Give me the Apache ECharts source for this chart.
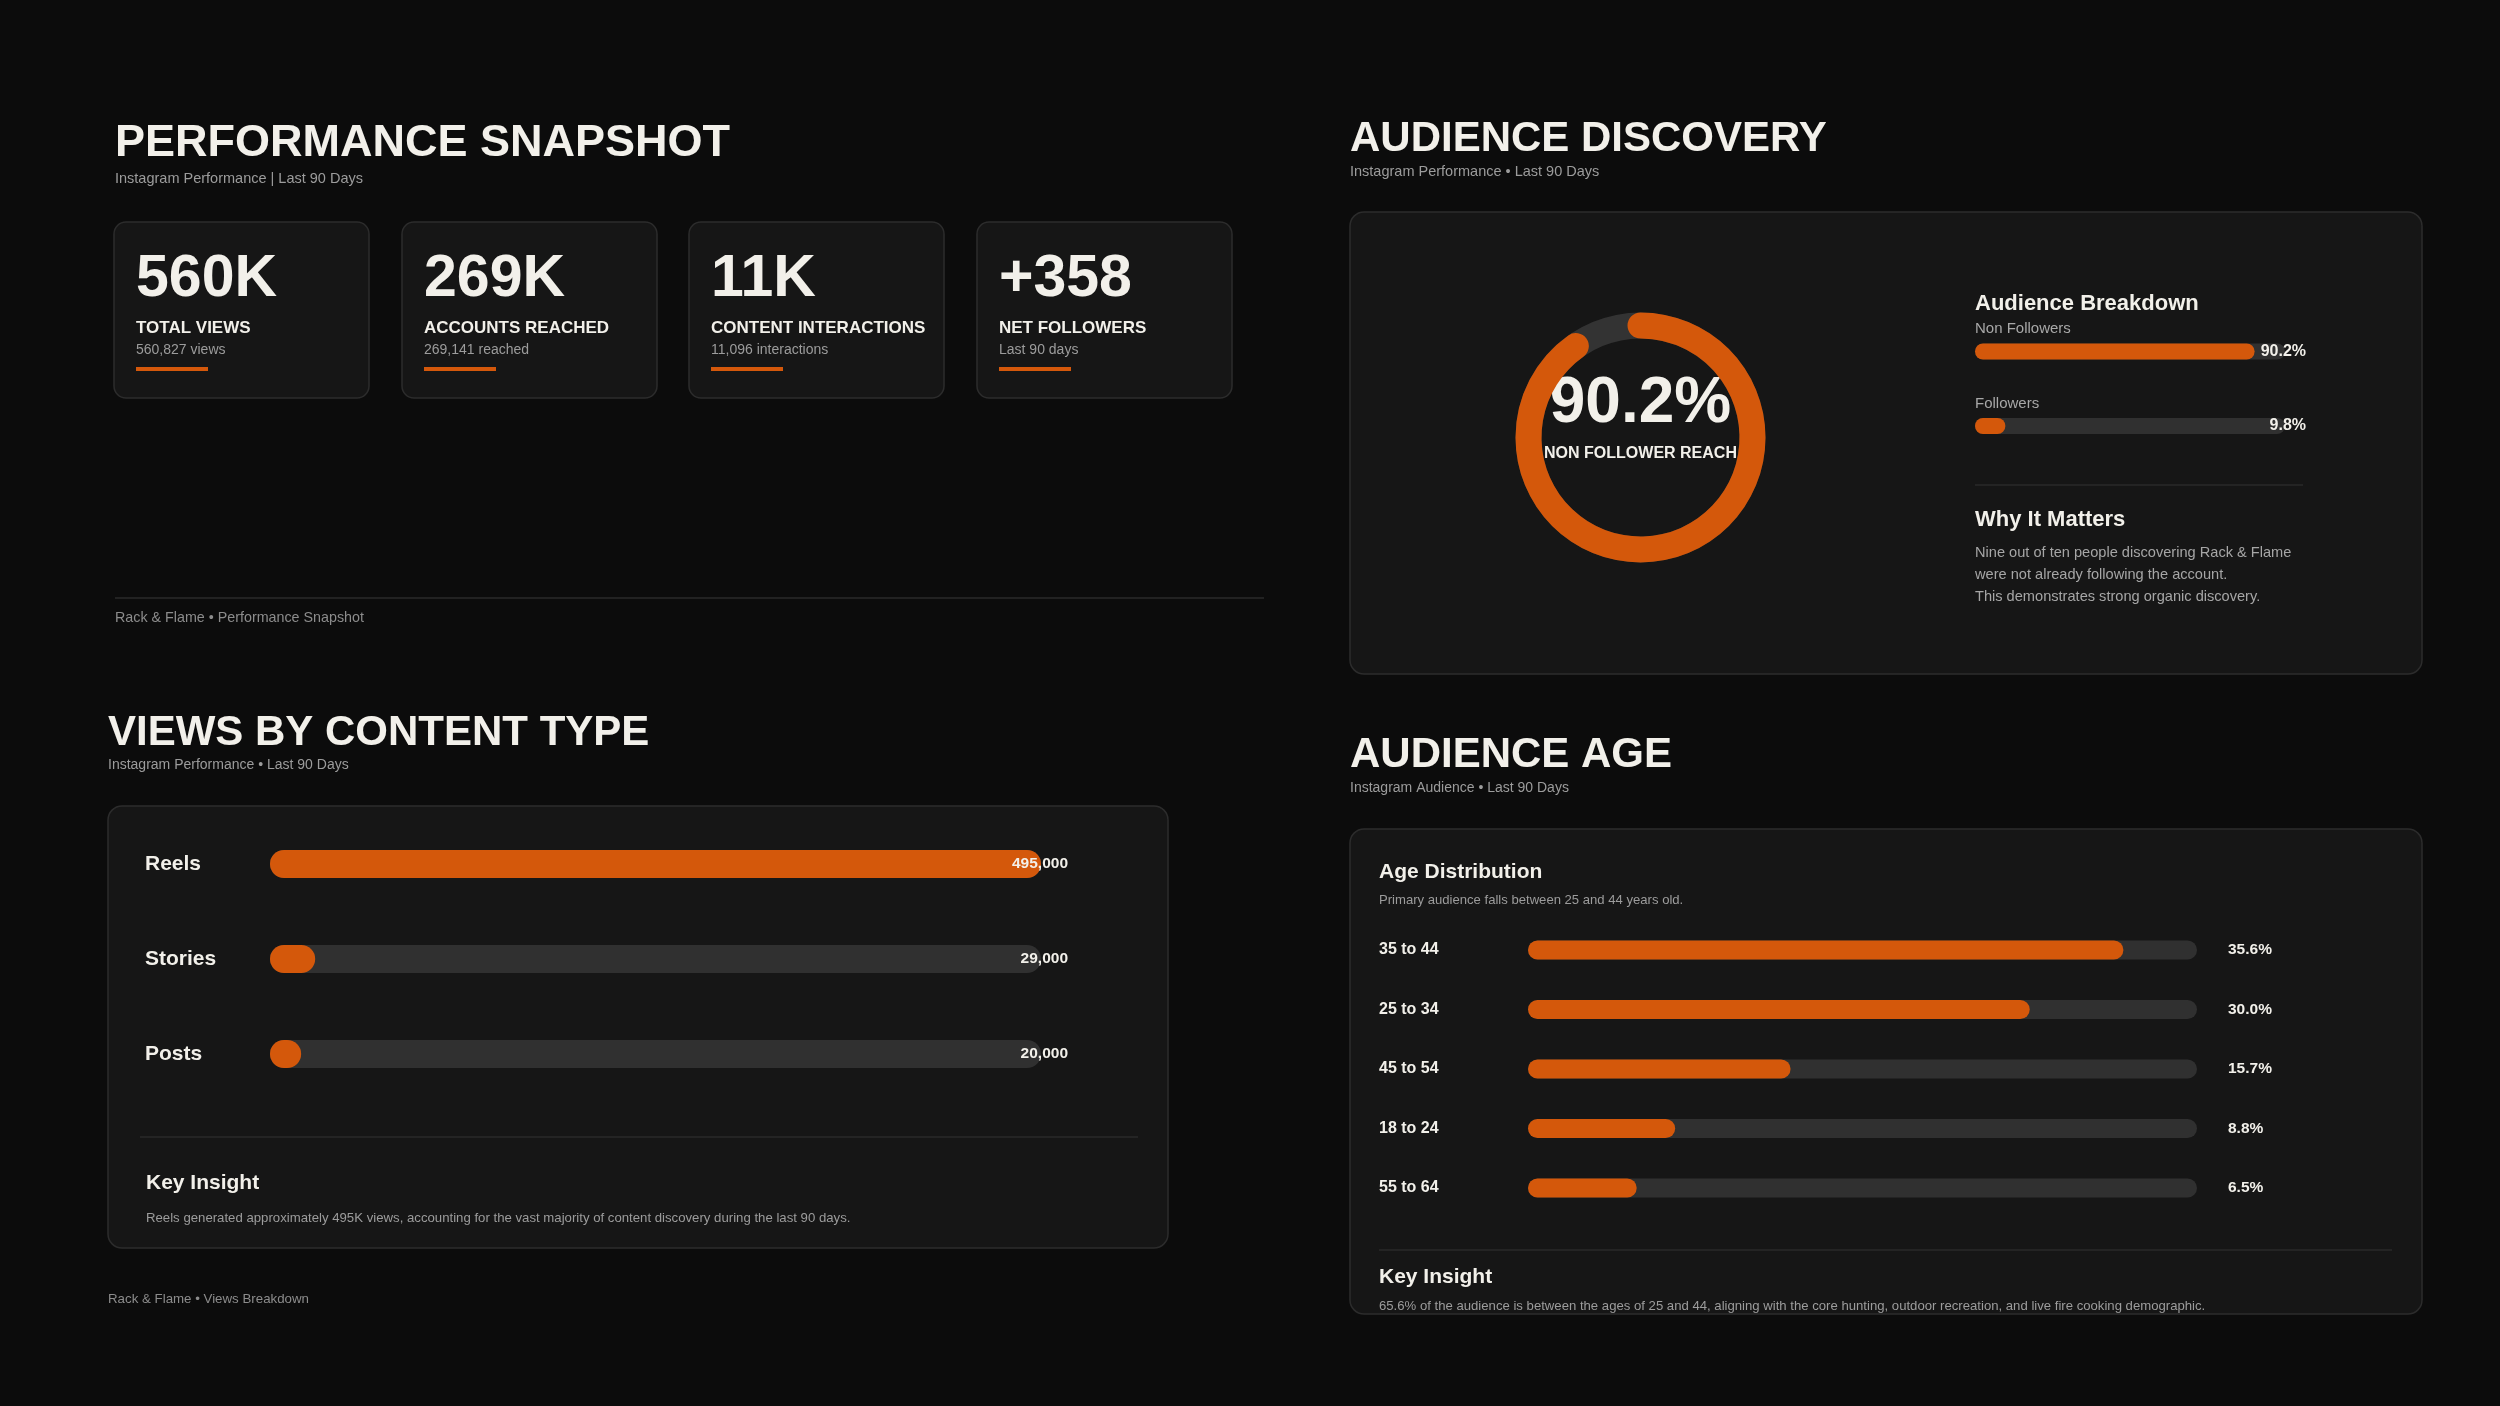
<!DOCTYPE html>
<html>
<head>
<meta charset="utf-8">
<script src="https://cdn.jsdelivr.net/npm/echarts@6/dist/echarts.min.js"></script>
<style>
html,body{margin:0;padding:0;background:#0c0c0c;}
#chart{width:2500px;height:1406px;}
</style>
</head>
<body>
<div id="chart"></div>
<script>
// ---- data ----
const kpiValues = ['560K', '269K', '11K', '+358'];
const kpiLabels = ['TOTAL VIEWS', 'ACCOUNTS REACHED', 'CONTENT INTERACTIONS', 'NET FOLLOWERS'];
const kpiSubs = ['560,827 views', '269,141 reached', '11,096 interactions', 'Last 90 days'];

const reachValue = 90.2;
const breakdownLabels = ['Non Followers', 'Followers'];
const breakdownValues = [90.2, 9.8];

const contentTypes = ['Reels', 'Stories', 'Posts'];
const contentViews = [495000, 29000, 20000];
const contentMax = 495000;

const ageGroups = ['35 to 44', '25 to 34', '45 to 54', '18 to 24', '55 to 64'];
const agePct = [35.6, 30.0, 15.7, 8.8, 6.5];
const ageMax = 40;

// ---- styles ----
const ORANGE = '#D4580B';
const TRACK = '#303030';
const WHITE = '#F2F0EA';
const GREY = '#9C9C9C';
const FONT = '"Liberation Sans", Arial, sans-serif';
const CARD_FILL = '#161616';
const CARD_STROKE = '#2C2C2C';

function txt(x, y, text, size, color, weight, extra) {
  return Object.assign({
    type: 'text', x: x, y: y, z: 10,
    style: { text: text, fontSize: size, fill: color, fontWeight: weight || 'normal',
      fontFamily: FONT, verticalAlign: 'middle', align: 'left' }
  }, extra || {});
}
function card(x, y, w, h, r) {
  return { type: 'rect', z: -5, shape: { x: x, y: y, width: w, height: h, r: r },
    style: { fill: CARD_FILL, stroke: CARD_STROKE, lineWidth: 1.5 } };
}
function hline(x1, x2, y, color) {
  return { type: 'line', z: 1, shape: { x1: x1, y1: y, x2: x2, y2: y },
    style: { stroke: color || '#2A2A2A', lineWidth: 1.5 } };
}

const graphics = [];
// Performance snapshot
graphics.push(txt(115, 144, 'PERFORMANCE SNAPSHOT', 45, WHITE, 'bold'));
graphics.push(txt(115, 179, 'Instagram Performance | Last 90 Days', 14.5, GREY));
const cardXs = [114, 402, 689, 977];
kpiValues.forEach(function (v, i) {
  const x = cardXs[i];
  graphics.push(card(x, 222, 255, 176, 12));
  graphics.push(txt(x + 22, 280, v, 59, WHITE, 'bold'));
  graphics.push(txt(x + 22, 328.5, kpiLabels[i], 17, WHITE, 'bold'));
  graphics.push(txt(x + 22, 350.5, kpiSubs[i], 14, GREY));
  graphics.push({ type: 'rect', z: 5, shape: { x: x + 22, y: 367, width: 72, height: 4 }, style: { fill: ORANGE } });
});
graphics.push(hline(115, 1264, 598));
graphics.push(txt(115, 618, 'Rack & Flame • Performance Snapshot', 14.3, '#8C8C8C'));

// Audience discovery
graphics.push(txt(1350, 139.5, 'AUDIENCE DISCOVERY', 42, WHITE, 'bold'));
graphics.push(txt(1350, 172, 'Instagram Performance • Last 90 Days', 14.5, GREY));
graphics.push(card(1350, 212, 1072, 462, 14));
graphics.push(txt(1975, 304, 'Audience Breakdown', 22, WHITE, 'bold'));
graphics.push(hline(1975, 2303, 485));
graphics.push(txt(1975, 520, 'Why It Matters', 22, WHITE, 'bold'));
graphics.push(txt(1975, 552.5, 'Nine out of ten people discovering Rack & Flame', 14.6, '#A6A6A6'));
graphics.push(txt(1975, 574.5, 'were not already following the account.', 14.6, '#A6A6A6'));
graphics.push(txt(1975, 596.5, 'This demonstrates strong organic discovery.', 14.6, '#A6A6A6'));

// Views by content type
graphics.push(txt(108, 733.5, 'VIEWS BY CONTENT TYPE', 42, WHITE, 'bold'));
graphics.push(txt(108, 765.5, 'Instagram Performance • Last 90 Days', 14, GREY));
graphics.push(card(108, 806, 1060, 442, 14));
graphics.push(hline(140, 1138, 1137));
graphics.push(txt(146, 1183, 'Key Insight', 21, WHITE, 'bold'));
graphics.push(txt(146, 1218.5, 'Reels generated approximately 495K views, accounting for the vast majority of content discovery during the last 90 days.', 13.2, GREY));
graphics.push(txt(108, 1299.5, 'Rack & Flame • Views Breakdown', 13.3, '#8C8C8C'));

// Audience age
graphics.push(txt(1350, 755.5, 'AUDIENCE AGE', 42, WHITE, 'bold'));
graphics.push(txt(1350, 788.5, 'Instagram Audience • Last 90 Days', 14, GREY));
graphics.push(card(1350, 829, 1072, 485, 14));
graphics.push(txt(1379, 872.5, 'Age Distribution', 21, WHITE, 'bold'));
graphics.push(txt(1379, 900.5, 'Primary audience falls between 25 and 44 years old.', 13.1, GREY));
graphics.push(hline(1379, 2392, 1250));
graphics.push(txt(1379, 1277.5, 'Key Insight', 21, WHITE, 'bold'));
graphics.push(txt(1379, 1306, '65.6% of the audience is between the ages of 25 and 44, aligning with the core hunting, outdoor recreation, and live fire cooking demographic.', 13.15, GREY));

const chart = echarts.init(document.getElementById('chart'), null, { renderer: 'canvas' });

function valueAxis(idx, max) {
  return { type: 'value', gridIndex: idx, min: 0, max: max, show: false };
}
function catAxis(idx, data, labelCfg) {
  return {
    type: 'category', gridIndex: idx, data: data, inverse: true,
    axisLine: { show: false }, axisTick: { show: false }, splitLine: { show: false },
    axisLabel: Object.assign({ align: 'left', color: WHITE, fontWeight: 'bold', fontFamily: FONT, interval: 0 }, labelCfg)
  };
}

const option = {
  backgroundColor: '#0C0C0C',
  animation: false,
  textStyle: { fontFamily: FONT },
  graphic: { elements: graphics },
  grid: [
    { left: 1975, top: 314.25, width: 310, height: 149 },
    { left: 270, top: 816.5, width: 771, height: 285 },
    { left: 1528, top: 920.25, width: 669, height: 297.5 }
  ],
  xAxis: [valueAxis(0, 100), valueAxis(1, contentMax), valueAxis(2, ageMax)],
  yAxis: [
    catAxis(0, breakdownLabels, { show: false }),
    catAxis(1, contentTypes, { margin: 125, fontSize: 21 }),
    catAxis(2, ageGroups, { margin: 149, fontSize: 16 })
  ],
  series: [
    {
      type: 'gauge', center: [1640.5, 437.5], radius: 125,
      startAngle: 90, endAngle: -270, min: 0, max: 100,
      progress: { show: true, width: 26, roundCap: true, itemStyle: { color: ORANGE } },
      axisLine: { lineStyle: { width: 26, color: [[1, '#333333']] } },
      pointer: { show: false }, anchor: { show: false },
      axisTick: { show: false }, splitLine: { show: false }, axisLabel: { show: false },
      title: { show: true, offsetCenter: [0, 16.5], color: WHITE, fontSize: 16, fontWeight: 'bold', fontFamily: FONT },
      detail: { show: true, offsetCenter: [0, -33], color: WHITE, fontSize: 64, fontWeight: 'bold', fontFamily: FONT,
        formatter: function (v) { return v.toFixed(1) + '%'; } },
      data: [{ value: reachValue, name: 'NON FOLLOWER REACH' }]
    },
    // breakdown
    {
      type: 'bar', xAxisIndex: 0, yAxisIndex: 0, data: breakdownValues, barWidth: 16,
      itemStyle: { color: ORANGE, borderRadius: 8 },
      showBackground: true, backgroundStyle: { color: TRACK, borderRadius: 8 }, silent: true
    },
    {
      type: 'bar', xAxisIndex: 0, yAxisIndex: 0, data: breakdownLabels.map(function () { return 100; }),
      barWidth: 16, barGap: '-100%', itemStyle: { color: 'transparent' }, silent: true,
      label: { show: true, position: 'insideRight', distance: 0, offset: [21, 0], color: WHITE,
        fontWeight: 'bold', fontSize: 16, fontFamily: FONT,
        formatter: function (p) { return breakdownValues[p.dataIndex].toFixed(1) + '%'; } }
    },
    {
      type: 'bar', xAxisIndex: 0, yAxisIndex: 0, data: breakdownLabels.map(function () { return 100; }),
      barWidth: 16, barGap: '-100%', itemStyle: { color: 'transparent' }, silent: true,
      label: { show: true, position: 'insideLeft', distance: 0, offset: [0, -22.5], color: '#A8A8A8',
        fontSize: 15, fontFamily: FONT,
        formatter: function (p) { return breakdownLabels[p.dataIndex]; } }
    },
    // content types
    {
      type: 'bar', xAxisIndex: 1, yAxisIndex: 1, data: contentViews, barWidth: 28,
      itemStyle: { color: ORANGE, borderRadius: 14 },
      showBackground: true, backgroundStyle: { color: TRACK, borderRadius: 14 }, silent: true
    },
    {
      type: 'bar', xAxisIndex: 1, yAxisIndex: 1, data: contentTypes.map(function () { return contentMax; }),
      barWidth: 28, barGap: '-100%', itemStyle: { color: 'transparent' }, silent: true,
      label: { show: true, position: 'insideRight', distance: 0, offset: [27, 0], color: WHITE,
        fontWeight: 'bold', fontSize: 15.5, fontFamily: FONT,
        formatter: function (p) { return contentViews[p.dataIndex].toLocaleString('en-US'); } }
    },
    // ages
    {
      type: 'bar', xAxisIndex: 2, yAxisIndex: 2, data: agePct, barWidth: 19,
      itemStyle: { color: ORANGE, borderRadius: 9.5 },
      showBackground: true, backgroundStyle: { color: TRACK, borderRadius: 9.5 }, silent: true
    },
    {
      type: 'bar', xAxisIndex: 2, yAxisIndex: 2, data: ageGroups.map(function () { return ageMax; }),
      barWidth: 19, barGap: '-100%', itemStyle: { color: 'transparent' }, silent: true,
      label: { show: true, position: 'right', distance: 31, color: WHITE,
        fontWeight: 'bold', fontSize: 15.5, fontFamily: FONT,
        formatter: function (p) { return agePct[p.dataIndex].toFixed(1) + '%'; } }
    }
  ]
};
chart.setOption(option);
</script>
</body>
</html>
